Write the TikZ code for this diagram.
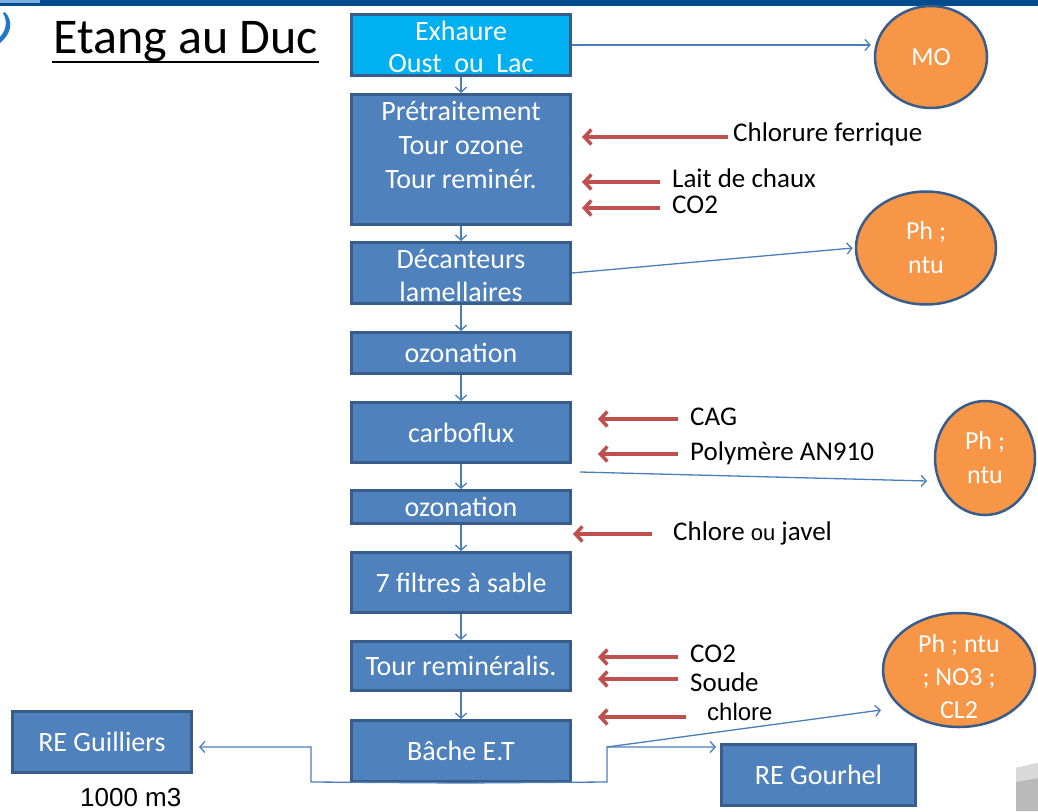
\documentclass[tikz,border=0pt]{standalone}
\usepackage{fontspec}
\setmainfont{Carlito}
\newfontfamily\arialf{Liberation Sans}
\usetikzlibrary{arrows.meta,shapes.geometric,calc}
\definecolor{boxfill}{HTML}{4F81BD}
\definecolor{boxline}{HTML}{385D8A}
\definecolor{cyanfill}{HTML}{00B0F0}
\definecolor{orfill}{HTML}{F79646}
\definecolor{redc}{HTML}{C0504D}
\definecolor{flowblue}{HTML}{4A7EBB}
\definecolor{banner}{HTML}{004C8E}
\definecolor{logoblue}{HTML}{1F78C8}
\begin{document}
\begin{tikzpicture}[x=1pt,y=-1pt,
  box/.style={draw=boxline, line width=3pt, fill=boxfill, text=white, minimum width=219pt, inner sep=0pt, align=center, font=\fontsize{28}{33}\selectfont},
  oval/.style={ellipse, draw=boxline, line width=2.5pt, fill=orfill, text=white, inner sep=0pt, align=center, font=\fontsize{26}{34}\selectfont},
  boxtext/.style={text=white, align=center, inner sep=0pt, font=\fontsize{28}{34}\selectfont},
  lbl/.style={anchor=base west, inner sep=0pt, font=\fontsize{27}{32}\selectfont},
  flow/.style={draw=flowblue, line width=1.3pt, -{Straight Barb[length=5pt,width=11pt]}},
  feed/.style={draw=redc, line width=3.5pt, -{Straight Barb[length=7pt,width=15pt]}}
]
\useasboundingbox (0,0) rectangle (1038,811);
% decorations
\fill[banner] (0,0) rectangle (1038,6);
\fill[logoblue!60] (0,0) rectangle (40,3);
\fill[logoblue] (5,12) .. controls (14,22) and (11,34) .. (0,43) -- (0,37) .. controls (6,30) and (8,22) .. (3,13) -- cycle;
\fill[gray!55] (1016,768) -- (1038,763) -- (1038,811) -- (1016,811) -- cycle;
\fill[gray!30] (1016,768) -- (1038,763) -- (1038,778) -- (1016,782) -- cycle;

% title
\node[anchor=base west, inner sep=0pt, font=\fontsize{50}{58}\selectfont] (title) at (53,53) {Etang au Duc};
\draw[line width=2.5pt] ($(title.base west)+(-1,9)$) -- ($(title.base east)+(1,9)$);

% process boxes
\node[box, fill=cyanfill, minimum height=61pt] (exh) at (461,45) {};
\node[boxtext] (exhtxt) at (461,47) {Exhaure\\[-2pt]Oust\ \ ou\ \ Lac};
\node[box, minimum height=130pt] (pre) at (461,159.5) {};
\node[boxtext] (pretxt) at (461,145) {Prétraitement\\Tour ozone\\Tour reminér.};
\node[box, minimum height=61pt] (dec) at (461,273) {};
\node[boxtext] (dectxt) at (461,275.5) {Décanteurs\\[-1pt]lamellaires};
\node[box, minimum height=41pt] (oz1) at (461,353) {ozonation};
\node[box, minimum height=60pt] (carb) at (461,432.5) {carboflux};
\node[box, minimum height=33pt] (oz2) at (461,507) {ozonation};
\node[box, minimum height=60pt] (filt) at (461,582.5) {7 filtres à sable};
\node[box, minimum height=49pt] (tour) at (461,666) {Tour reminéralis.};
\node[box, minimum height=61pt] (bache) at (461,751) {Bâche E.T};
\node[box, minimum width=179pt, minimum height=61pt] (guil) at (102,742) {RE Guilliers};
\node[box, minimum width=194pt, minimum height=61pt] (gour) at (818.5,775) {RE Gourhel};
\node[anchor=base west, inner sep=0pt, font=\arialf\fontsize{26}{30}\selectfont] (vol) at (80,806) {1000 m3};

% measurement ovals
\node[oval, minimum width=112pt, minimum height=102pt] (mo) at (931,57) {MO};
\node[oval, minimum width=140pt, minimum height=113pt] (ph1) at (926,248) {Ph ;\\ntu};
\node[oval, minimum width=100pt, minimum height=114pt] (ph2) at (985,458) {Ph ;\\ntu};
\node[oval, minimum width=152pt, minimum height=114pt] (ph3) at (959,670) {};
\node[text=white, align=center, inner sep=0pt, font=\fontsize{26}{33}\selectfont] (ph3txt) at (959,677) {Ph ; ntu\\; NO3 ;\\CL2};

% main flow
\foreach \a/\b in {exh/pre, pre/dec, dec/oz1, oz1/carb, carb/oz2, oz2/filt, filt/tour, tour/bache}
  \draw[flow] (\a.south) -- (\b.north);

\draw[flow] (exh.east) -- ($(exh.east -| mo.west)+(-3,0)$);
\draw[flow] (dec.east) -- ($(ph1.west)+(-2,0)$);
\coordinate (c2s) at (580,472);
\coordinate (c2e) at (927,481);
\draw[flow] (c2s) -- (c2e);

\coordinate (bl) at (311,782);
\coordinate (gl) at (311,747);
\coordinate (br) at (607,782);
\coordinate (bm) at (607,747);
\coordinate (ga) at (716,747);
\coordinate (pa) at (881,710);
\draw[flow] (bache.south) -- (bl) -- (gl) -- ($(guil.east)+(6,5)$);
\draw[flow] (bache.south) -- (br) -- (bm) -- (ga);
\draw[flow] (bm) -- (pa);

% reagent labels
\node[lbl] (l1) at (733,141) {Chlorure ferrique};
\node[lbl] (l2) at (672,187) {Lait de chaux};
\node[lbl] (l3) at (672,213) {CO2};
\node[lbl] (l4) at (690,425) {CAG};
\node[lbl] (l5) at (690,460) {Polymère AN910};
\node[lbl] (l6) at (673,540) {Chlore {\arialf\fontsize{22}{26}\selectfont ou} javel};
\node[lbl] (l7) at (690,662) {CO2};
\node[lbl] (l8) at (690,691) {Soude};
\node[lbl, font=\arialf\fontsize{24}{28}\selectfont] (l9) at (707,720) {chlore};

\draw[feed] ($(l1.base west)+(-5,-4)$) -- ($(l1.base west -| pre.east)+(10,-4)$);
\draw[feed] ($(l2.base west)+(-12,-5)$) -- ($(l2.base west -| pre.east)+(10,-5)$);
\draw[feed] ($(l3.base west)+(-12,-5)$) -- ($(l3.base west -| pre.east)+(10,-5)$);
\draw[feed] ($(l4.base west)+(-12,-6)$) -- ($(l4.base west -| carb.east)+(26,-6)$);
\draw[feed] ($(l5.base west)+(-12,-6)$) -- ($(l5.base west -| carb.east)+(26,-6)$);
\draw[feed] ($(l6.base west)+(-21,-6)$) -- ($(l6.base west -| oz2.east)+(1,-6)$);
\draw[feed] ($(l7.base west)+(-12,-5)$) -- ($(l7.base west -| tour.east)+(26,-5)$);
\draw[feed] ($(l8.base west)+(-12,-12)$) -- ($(l8.base west -| tour.east)+(26,-12)$);
\draw[feed] ($(l9.base west)+(-21,-3)$) -- ($(l9.base west -| tour.east)+(26,-3)$);
\end{tikzpicture}
\end{document}
